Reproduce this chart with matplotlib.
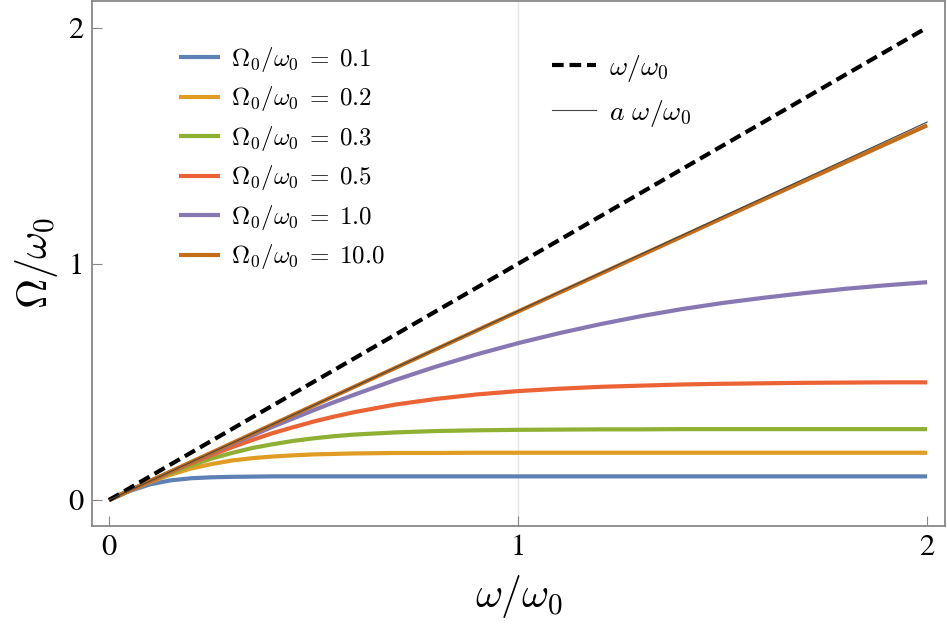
import matplotlib
matplotlib.use('Agg')
import matplotlib.pyplot as plt
import numpy as np

plt.rcParams['font.family'] = 'STIXGeneral'
plt.rcParams['mathtext.fontset'] = 'cm'

# omega / omega_0 sample points
w = [0, 0.05, 0.1, 0.15, 0.2, 0.25, 0.3, 0.35, 0.4, 0.45, 0.5, 0.55, 0.6,
     0.7, 0.8, 0.9, 1.0, 1.1, 1.2, 1.3, 1.4, 1.5, 1.6, 1.7, 1.8, 1.9, 2.0]

# Omega / omega_0
om_01 = [0, 0.038, 0.066, 0.083, 0.092, 0.096, 0.098, 0.099, 0.100, 0.100, 0.100, 0.100, 0.100,
         0.100, 0.100, 0.100, 0.100, 0.100, 0.100, 0.100, 0.100, 0.100, 0.100, 0.100, 0.100, 0.100, 0.100]
om_02 = [0, 0.039, 0.076, 0.107, 0.133, 0.152, 0.167, 0.177, 0.184, 0.189, 0.193, 0.195, 0.197,
         0.199, 0.199, 0.200, 0.200, 0.200, 0.200, 0.200, 0.200, 0.200, 0.200, 0.200, 0.200, 0.200, 0.200]
om_03 = [0, 0.040, 0.078, 0.114, 0.146, 0.175, 0.199, 0.220, 0.236, 0.250, 0.261, 0.270, 0.277,
         0.286, 0.292, 0.295, 0.297, 0.298, 0.299, 0.299, 0.300, 0.300, 0.300, 0.300, 0.300, 0.300, 0.300]
om_05 = [0, 0.040, 0.079, 0.118, 0.155, 0.190, 0.223, 0.254, 0.283, 0.308, 0.332, 0.353, 0.372,
         0.404, 0.428, 0.447, 0.461, 0.471, 0.479, 0.484, 0.489, 0.492, 0.494, 0.496, 0.497, 0.498, 0.498]
om_10 = [0, 0.040, 0.080, 0.119, 0.159, 0.197, 0.236, 0.273, 0.310, 0.345, 0.380, 0.414, 0.446,
         0.508, 0.565, 0.617, 0.664, 0.706, 0.744, 0.778, 0.808, 0.834, 0.856, 0.876, 0.894, 0.909, 0.922]
# the 10.0 curve is practically straight
w_100 = [0, 0.5, 1.0, 1.5, 2.0]
om_100 = [0, 0.400, 0.798, 1.194, 1.586]

labels = ['0.1', '0.2', '0.3', '0.5', '1.0', '10.0']
xs = [w, w, w, w, w, w_100]
series = [om_01, om_02, om_03, om_05, om_10, om_100]
colors = ['#5E81B5', '#E19C24', '#8FB032', '#EB6235', '#8778B3', '#C56E1A']

# reference lines
ref_w = [0, 2]
ref_free = [0, 2]
ref_a = [0, 1.6]

fig = plt.figure(figsize=(9.47, 6.35), dpi=100)
ax = fig.add_axes([0.0972, 0.1717, 0.9008, 0.8273])

ax.axvline(1, color='#e6e6e6', lw=1, zorder=0)

curve_handles = []
for x, vals, lab, col in zip(xs, series, labels, colors):
    h, = ax.plot(x, vals, color=col, lw=3, solid_capstyle='butt',
                 label=r'$\Omega_0/\omega_0 \;=\; %s$' % lab)
    curve_handles.append(h)

h_dash, = ax.plot(ref_w, ref_free, color='black', lw=3, ls=(0, (2.8, 1.4)),
                  label=r'$\omega/\omega_0$')
h_thin, = ax.plot(ref_w, ref_a, color='#444444', lw=0.8,
                  label=r'$a\ \omega/\omega_0$')

ax.set_xlim(-0.0416, 2.044)
ax.set_ylim(-0.11, 2.114)
ax.set_xticks([0, 1, 2])
ax.set_yticks([0, 1, 2])
ax.tick_params(direction='in', length=7, width=0.8, color='#888888',
               labelsize=22, pad=6)
for sp in ax.spines.values():
    sp.set_color('#888888')
    sp.set_linewidth(1.3)

ax.set_xlabel(r'$\omega/\omega_0$', fontsize=30, labelpad=8)
ax.set_ylabel(r'$\Omega/\omega_0$', fontsize=30, labelpad=6)

leg1 = ax.legend(handles=curve_handles, loc='upper left',
                 bbox_to_anchor=(0.090, 0.935), frameon=False, fontsize=18,
                 handlelength=1.65, handletextpad=0.45, labelspacing=0.42,
                 borderaxespad=0)
ax.add_artist(leg1)
ax.legend(handles=[h_dash, h_thin], loc='upper left',
          bbox_to_anchor=(0.526, 0.922), frameon=False, fontsize=20,
          handlelength=1.6, handletextpad=0.45, labelspacing=0.5,
          borderaxespad=0)

plt.savefig('out.png', dpi=100)
